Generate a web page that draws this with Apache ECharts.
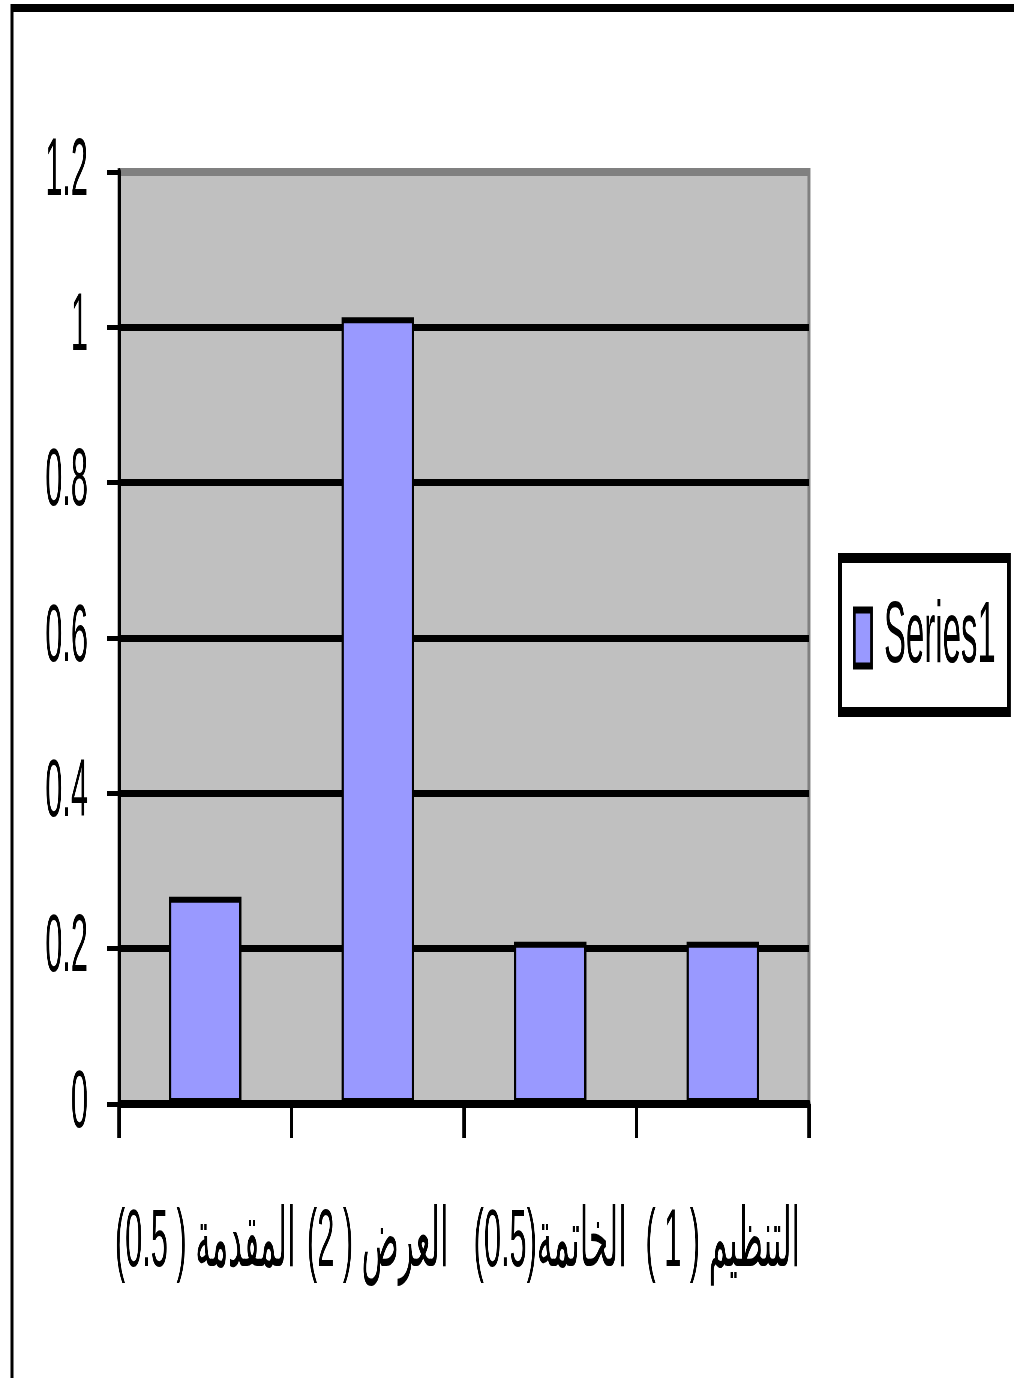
<!DOCTYPE html>
<html>
<head>
<meta charset="utf-8">
<script src="https://cdn.jsdelivr.net/npm/echarts@6/dist/echarts.min.js"></script>
<style>
  html, body { margin: 0; padding: 0; background: #fff; overflow: hidden; width: 1014px; height: 1378px; }
  #chart { position: absolute; left: 0; top: 0; height: 1378px; transform-origin: 0 0; }
</style>
</head>
<body>
<div id="chart"></div>
<script>
// ---- data ----
const categories = ['المقدمة ( 0.5)', 'العرض ( 2)', 'الخاتمة(0.5)', 'التنظيم ( 1 )'];
const seriesName = 'Series1';
const values = [0.267, 1.013, 0.209, 0.209];
const yTicks = { min: 0, max: 1.2, interval: 0.2 };

// ---- layout (the picture is horizontally condensed) ----
const SX = 0.375;            // horizontal squeeze
const K = 1 / SX;            // outer px -> inner px
const W = 1014, H = 1378;
const el = document.getElementById('chart');
el.style.width = (W * K) + 'px';
el.style.transform = 'scaleX(' + SX + ')';

const chart = echarts.init(el, null, { renderer: 'canvas', width: W * K, height: H });
const FONT = "'Liberation Sans', Arial, 'DejaVu Sans', sans-serif";

chart.setOption({
  backgroundColor: '#ffffff',
  animation: false,
  graphic: [{
    type: 'rect', z: 100, silent: true,
    shape: { x: 12 * K, y: 8, width: W * K, height: H },
    style: { fill: null, stroke: '#000', lineWidth: 8 }
  }],
  grid: {
    left: 119 * K, right: (W - 809) * K, top: 172, bottom: H - 1104,
    show: true, backgroundColor: '#C0C0C0', borderColor: '#808080', borderWidth: 8
  },
  legend: {
    show: true,
    orient: 'vertical',
    left: 840 * K, top: 558,
    padding: [36, 13 * K, 30, 13 * K],
    backgroundColor: '#fff',
    borderColor: '#000', borderWidth: 10,
    itemWidth: 46, itemHeight: 56,
    icon: 'rect',
    itemStyle: { color: '#9999FF', borderColor: '#000', borderWidth: 7 },
    textStyle: { fontFamily: FONT, fontSize: 88, color: '#000', padding: [0, 0, 0, 28] },
    data: [seriesName]
  },
  xAxis: {
    type: 'category',
    data: categories.map(c => '\u202B' + c + '\u202C'),
    axisLine: { lineStyle: { color: '#000', width: 8 } },
    axisTick: { show: true, length: 34, lineStyle: { color: '#000', width: 9 } },
    axisLabel: { interval: 0, margin: 98, fontFamily: FONT, fontSize: 82, color: '#000' },
    splitLine: { show: false }
  },
  yAxis: {
    type: 'value',
    min: yTicks.min, max: yTicks.max, interval: yTicks.interval,
    axisLine: { show: true, lineStyle: { color: '#000', width: 8 } },
    axisTick: { show: true, length: 12 * K, lineStyle: { color: '#000', width: 5 } },
    axisLabel: { margin: 31 * K, fontFamily: FONT, fontSize: 82, color: '#000' },
    splitLine: { show: true, showMinLine: false, showMaxLine: false, lineStyle: { color: '#000', width: 7 } }
  },
  series: [{
    name: seriesName,
    type: 'bar',
    data: values,
    barWidth: '42%',
    itemStyle: { color: '#9999FF', borderColor: '#000', borderWidth: 6 }
  }]
});
</script>
</body>
</html>
